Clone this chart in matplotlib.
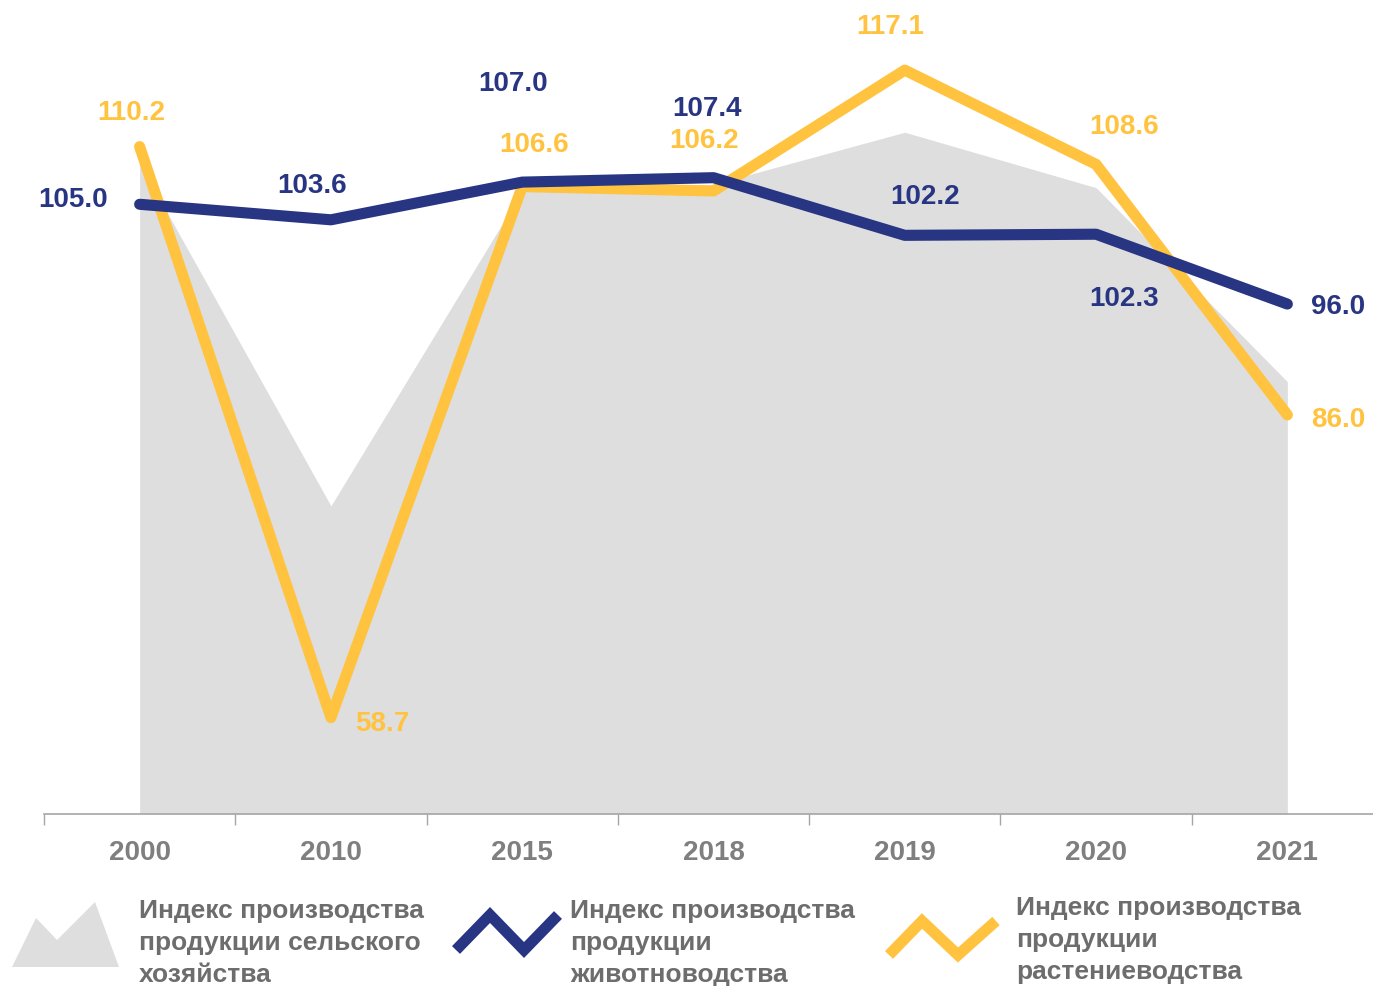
import matplotlib.pyplot as plt
from matplotlib.lines import Line2D
from matplotlib.patches import Polygon

plt.rcParams['font.family'] = ['Liberation Sans', 'DejaVu Sans']
plt.rcParams['font.weight'] = 'bold'

years = ['2000', '2010', '2015', '2018', '2019', '2020', '2021']
agri = [108.7, 77.8, 106.2, 106.8, 111.5, 106.5, 89.0]      # gray area, no labels
livestock = [105.0, 103.6, 107.0, 107.4, 102.2, 102.3, 96.0]
crops = [110.2, 58.7, 106.6, 106.2, 117.1, 108.6, 86.0]

legend_labels = ['Индекс производства\nпродукции сельского\nхозяйства',
                 'Индекс производства\nпродукции\nживотноводства',
                 'Индекс производства\nпродукции\nрастениеводства']

BLUE = '#283583'
YELLOW = '#ffc33f'
GRAY = '#dedede'
TXT = '#6d6d6d'

W, H = 1373, 987
fig = plt.figure(figsize=(W / 100, H / 100), dpi=100)
ax = fig.add_axes([44 / W, 172 / H, (1383 - 44) / W, 776 / H])
x = list(range(len(years)))

ax.fill_between(x, 50, agri, color=GRAY, lw=0, zorder=1)
ax.plot(x, livestock, color=BLUE, lw=8, solid_capstyle='round', zorder=3)
ax.plot(x, crops, color=YELLOW, lw=8, solid_capstyle='round', zorder=2)

# label offsets in pixels (dx, dy)
blue_off = [(-67, 5), (-19, 35), (-9, 99), (-7, 70), (20, 39), (28, -64), (51, -2)]
yel_off = [(-8, 35), (51, -5), (12, 43), (-9, 51), (-15, 44), (28, 38), (51, -4)]
for xi, v, off in zip(x, livestock, blue_off):
    ax.annotate(f'{v:.1f}', (xi, v), xytext=off, textcoords='offset pixels',
                ha='center', va='center', fontsize=20, color=BLUE, zorder=5)
for xi, v, off in zip(x, crops, yel_off):
    ax.annotate(f'{v:.1f}', (xi, v), xytext=off, textcoords='offset pixels',
                ha='center', va='center', fontsize=20, color=YELLOW, zorder=5)

ax.set_xlim(-0.5, 6.5)
ax.set_ylim(50, 120)
for s in ['top', 'right', 'left']:
    ax.spines[s].set_visible(False)
ax.spines['bottom'].set_color('#a6a6a6')
ax.spines['bottom'].set_linewidth(1.2)
ax.set_yticks([])
ax.set_xticks(x)
ax.set_xticklabels(years, fontsize=20, color='#7f7f7f')
ax.tick_params(axis='x', which='major', length=0, pad=18)
ax.set_xticks([i - 0.5 for i in range(len(years) + 1)], minor=True)
ax.tick_params(axis='x', which='minor', length=8, color='#a6a6a6', width=1)

# legend, drawn by hand
def fx(px):
    return px / W

def fy(py):
    return 1 - py / H

mountain = Polygon([(fx(12), fy(968)), (fx(36), fy(919)), (fx(57), fy(941)),
                    (fx(95), fy(903)), (fx(119), fy(968))],
                   closed=True, transform=fig.transFigure, color=GRAY, lw=0)
fig.patches.append(mountain)
fig.lines.append(Line2D([fx(456), fx(490), fx(524), fx(558)],
                        [fy(951), fy(916), fy(951), fy(916)],
                        transform=fig.transFigure, color=BLUE, lw=8,
                        solid_capstyle='butt', solid_joinstyle='miter'))
fig.lines.append(Line2D([fx(889), fx(922), fx(958), fx(996)],
                        [fy(956), fy(922), fy(956), fy(922)],
                        transform=fig.transFigure, color=YELLOW, lw=8,
                        solid_capstyle='butt', solid_joinstyle='miter'))

for lbl, px, py in zip(legend_labels, [139, 570, 1016], [899, 899, 896]):
    fig.text(fx(px), fy(py), lbl, ha='left', va='top', fontsize=19,
             color=TXT, linespacing=1.43)

fig.savefig('out.png', dpi=100)
